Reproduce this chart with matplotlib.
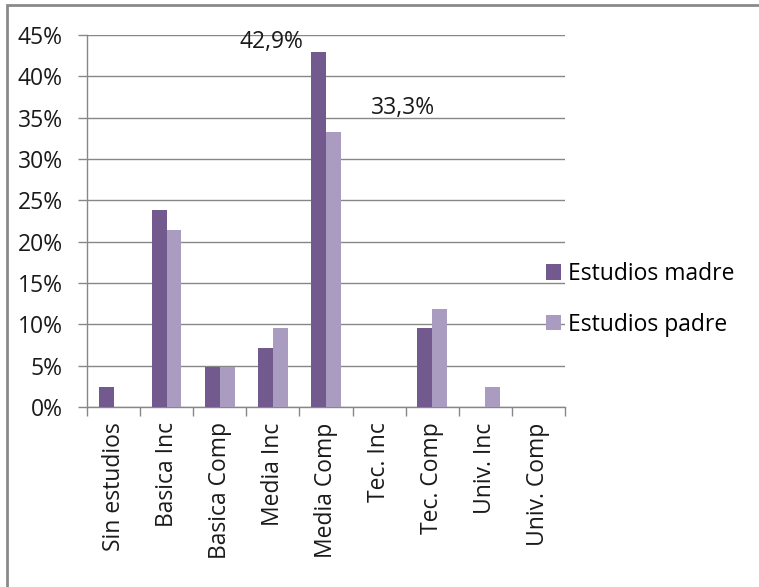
import numpy as np
import matplotlib
matplotlib.use("Agg")
import matplotlib.pyplot as plt
from matplotlib.patches import Rectangle

plt.rcParams['font.family'] = ['Open Sans', 'DejaVu Sans']

# datos
categorias = ['Sin estudios', 'Basica Inc', 'Basica Comp', 'Media Inc', 'Media Comp',
              'Tec. Inc', 'Tec. Comp', 'Univ. Inc', 'Univ. Comp']
madre = [2.4, 23.8, 4.8, 7.1, 42.9, 0.0, 9.5, 0.0, 0.0]
padre = [0.0, 21.4, 4.8, 9.5, 33.3, 0.0, 11.9, 2.4, 0.0]
series = ['Estudios madre', 'Estudios padre']
y_ticks = [0, 5, 10, 15, 20, 25, 30, 35, 40, 45]

c_madre = '#725a8f'
c_padre = '#aa9bc0'
gris = '#878787'
fs = 16.5

fig = plt.figure(figsize=(7.59, 5.87), dpi=100)
ax = fig.add_axes([0.1146, 0.3066, 0.6298, 0.6338])

x = np.arange(len(categorias))
w = 0.278
b1 = ax.bar(x - w / 2, madre, w, color=c_madre, label=series[0], zorder=3)
b2 = ax.bar(x + w / 2, padre, w, color=c_padre, label=series[1], zorder=3)

ax.set_xlim(-0.5, len(categorias) - 0.5)
ax.set_ylim(0, 45)
ax.set_yticks(y_ticks)
ax.set_yticklabels([f'{v}%' for v in y_ticks])
ax.yaxis.grid(True, color=gris, linewidth=1.0, zorder=0)
ax.set_axisbelow(True)

# ticks del eje x entre categorias
ax.set_xticks(np.arange(len(categorias) + 1) - 0.5)
ax.set_xticklabels([])
ax.set_xticks(x, minor=True)
ax.set_xticklabels(categorias, minor=True, rotation=90, fontsize=fs, color='#1a1a1a')
ax.tick_params(axis='x', which='minor', length=0, pad=11)
ax.tick_params(axis='x', which='major', length=6.5, width=1, color=gris, direction='out')
ax.tick_params(axis='y', length=6.5, width=1, color=gris, pad=11, labelsize=fs,
               labelcolor='#1a1a1a')

for s in ['top', 'right']:
    ax.spines[s].set_visible(False)
for s in ['left', 'bottom']:
    ax.spines[s].set_color(gris)
    ax.spines[s].set_linewidth(1.0)

# etiquetas de datos
ax.annotate('42,9%', xy=(b1[4].get_x(), madre[4]), xytext=(-40, -2),
            textcoords='offset pixels', ha='center', va='bottom', fontsize=fs,
            color='#1a1a1a')
ax.annotate('33,3%', xy=(b2[4].get_x() + b2[4].get_width(), padre[4]),
            xytext=(62, 12), textcoords='offset pixels', ha='center', va='bottom',
            fontsize=fs, color='#1a1a1a')

fig.legend(handles=[b1, b2], labels=series, loc='center left',
           bbox_to_anchor=(0.72, 0.49), frameon=False, fontsize=fs,
           handlelength=0.65, handleheight=0.65, handletextpad=0.3,
           labelspacing=1.15, borderaxespad=0, borderpad=0)

# borde del grafico
fig.patches.append(Rectangle((0.009, -0.1), 1.1, 1.091, transform=fig.transFigure,
                             fill=False, edgecolor='#8a8a8a', linewidth=2.0))

fig.savefig('out.png', dpi=100)
